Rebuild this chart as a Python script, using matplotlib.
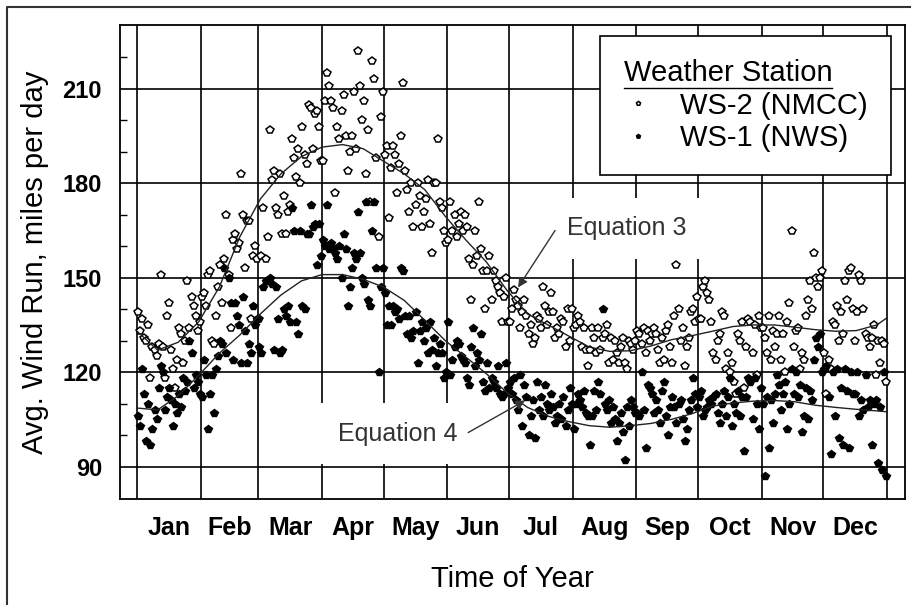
import numpy as np
import matplotlib
matplotlib.use('Agg')
import matplotlib.pyplot as plt
from matplotlib.lines import Line2D

plt.rcParams['font.family'] = ['Liberation Sans', 'DejaVu Sans']

# Months and their lengths (day 0 = Jan 1)
months = ['Jan', 'Feb', 'Mar', 'Apr', 'May', 'Jun',
          'Jul', 'Aug', 'Sep', 'Oct', 'Nov', 'Dec']
month_days = [31, 28, 31, 30, 31, 30, 31, 31, 30, 31, 30, 31]

# WS-2 (NMCC) daily wind run, miles per day
ws2_jan = [139, 133, 137, 131, 130, 135, 118, 128, 127, 125, 129, 151, 128, 118, 138, 142, 127, 121, 115, 124, 134, 132, 123, 130, 149, 134, 144, 141, 138, 133, 136]
ws2_feb = [144, 145, 141, 151, 152, 130, 129, 138, 147, 154, 142, 156, 170, 151, 134, 162, 164, 159, 161, 183, 170, 153, 168, 168, 137, 157, 160, 156]
ws2_mar = [137, 157, 172, 156, 163, 197, 181, 184, 172, 170, 183, 164, 176, 164, 171, 173, 194, 188, 182, 191, 180, 198, 189, 186, 205, 204, 191, 202, 203, 198, 187]
ws2_apr = [187, 206, 215, 211, 206, 204, 177, 198, 194, 203, 208, 195, 184, 190, 195, 209, 191, 222, 211, 200, 206, 183, 197, 174, 219, 213, 188, 163, 201, 209]
ws2_may = [189, 192, 169, 185, 192, 189, 177, 186, 195, 212, 184, 178, 171, 180, 166, 173, 180, 176, 166, 171, 175, 181, 167, 158, 180, 180, 194, 174, 172, 165, 161]
ws2_jun = [162, 174, 165, 170, 163, 167, 171, 165, 170, 166, 156, 143, 154, 165, 157, 174, 159, 152, 140, 152, 157, 143, 152, 149, 147, 145, 136, 144, 150, 136]
ws2_jul = [136, 140, 146, 143, 141, 134, 139, 143, 138, 132, 135, 129, 131, 138, 137, 134, 147, 141, 135, 139, 145, 139, 131, 134, 132, 137, 136, 128, 140, 130, 140]
ws2_aug = [134, 135, 138, 136, 128, 134, 127, 122, 127, 134, 131, 126, 134, 127, 131, 132, 135, 123, 131, 124, 130, 126, 123, 128, 131, 123, 121, 130, 129, 127, 130]
ws2_sep = [133, 132, 129, 134, 126, 133, 130, 132, 134, 132, 127, 123, 131, 124, 133, 135, 128, 123, 138, 154, 140, 130, 134, 122, 128, 131, 139, 140, 136, 144]
ws2_oct = [137, 137, 147, 149, 145, 143, 136, 126, 124, 130, 132, 139, 138, 121, 126, 120, 123, 117, 113, 132, 130, 136, 115, 128, 137, 136, 126, 135, 119, 138, 134]
ws2_nov = [134, 131, 126, 138, 124, 133, 128, 132, 138, 124, 132, 120, 136, 142, 165, 128, 133, 134, 121, 126, 124, 138, 143, 149, 140, 158, 150, 147, 150, 152]
ws2_dec = [126, 113, 124, 121, 136, 135, 141, 130, 139, 132, 149, 143, 152, 153, 140, 130, 139, 151, 149, 140, 132, 131, 128, 131, 135, 119, 130, 123, 130, 129, 117]

# WS-1 (NWS) daily wind run, miles per day
ws1_jan = [106, 103, 121, 113, 98, 110, 97, 102, 108, 105, 115, 122, 120, 108, 112, 115, 111, 103, 110, 107, 113, 109, 118, 114, 117, 130, 126, 115, 119, 117, 113]
ws1_feb = [112, 124, 119, 102, 113, 119, 107, 121, 125, 130, 129, 153, 126, 150, 142, 124, 142, 138, 135, 123, 144, 133, 123, 129, 126, 141, 135, 137]
ws1_mar = [128, 126, 147, 149, 149, 150, 148, 127, 147, 137, 126, 127, 140, 138, 141, 136, 172, 165, 136, 132, 165, 141, 140, 164, 164, 173, 166, 167, 154, 167, 157]
ws1_apr = [162, 160, 173, 159, 161, 159, 158, 156, 160, 150, 164, 159, 141, 147, 153, 158, 156, 171, 158, 150, 148, 174, 143, 141, 165, 174, 153, 120, 147, 153]
ws1_may = [145, 135, 141, 135, 141, 139, 140, 137, 153, 152, 138, 132, 138, 131, 133, 139, 123, 133, 136, 130, 134, 126, 136, 127, 131, 122, 126, 129, 126, 118, 120]
ws1_jun = [136, 119, 124, 128, 130, 129, 125, 124, 123, 118, 116, 128, 134, 122, 126, 124, 132, 117, 114, 123, 115, 118, 117, 115, 122, 113, 112, 113, 123, 115]
ws1_jul = [117, 113, 118, 111, 108, 119, 103, 116, 112, 100, 106, 111, 99, 117, 108, 112, 106, 116, 110, 108, 113, 109, 104, 106, 110, 105, 112, 103, 108, 115, 110]
ws1_aug = [102, 110, 113, 111, 109, 114, 107, 106, 97, 106, 114, 108, 117, 113, 140, 110, 108, 111, 104, 109, 105, 98, 104, 107, 101, 92, 109, 103, 111, 109, 107]
ws1_sep = [107, 106, 120, 108, 96, 116, 115, 113, 107, 111, 108, 104, 114, 117, 106, 100, 109, 112, 109, 104, 110, 111, 105, 98, 102, 108, 111, 118, 113, 109]
ws1_oct = [112, 114, 106, 108, 109, 111, 110, 112, 113, 107, 104, 110, 114, 106, 112, 118, 103, 110, 107, 114, 106, 112, 95, 112, 118, 117, 105, 118, 110, 102, 115]
ws1_nov = [110, 87, 112, 96, 111, 104, 113, 119, 116, 108, 113, 117, 102, 110, 121, 113, 120, 112, 116, 101, 106, 115, 105, 114, 111, 124, 131, 128, 132, 120]
ws1_dec = [121, 122, 112, 94, 120, 106, 121, 99, 115, 97, 121, 114, 96, 120, 113, 113, 120, 106, 111, 108, 119, 109, 111, 97, 110, 111, 91, 109, 89, 120, 87]

# Fitted curves (Equation 3 for WS-2, Equation 4 for WS-1)
curve_days = [0, 10, 20, 30, 40, 50, 60, 70, 80, 90, 100, 110, 120, 130, 140, 150, 160, 170, 180,
              190, 200, 210, 220, 230, 240, 250, 260, 270, 280, 290, 300, 310, 320, 330, 340, 350, 360, 365]
eq3 = [133, 127, 129.5, 136, 147, 163, 175, 183, 188.5, 191.5, 192.3, 191, 187, 183, 178, 169.5, 162, 155, 146,
       138.5, 135, 131.5, 128, 126.6, 126.8, 128.3, 130.3, 131.6, 133, 134.5, 135, 135, 134.3, 133.5, 133, 133.2, 135, 137.3]
eq4 = [108.6, 108, 112.5, 119, 126, 131.8, 138.5, 144.5, 149, 151, 151, 149.5, 147, 142.8, 136.5, 130, 124.8, 119.5, 113.5,
       108.8, 106, 104.3, 103, 102.5, 103, 103.7, 105, 106.8, 109.2, 110.2, 110.8, 111, 110.6, 109.5, 108.8, 108.2, 107.7, 107.4]

ws2 = np.concatenate([ws2_jan, ws2_feb, ws2_mar, ws2_apr, ws2_may, ws2_jun,
                      ws2_jul, ws2_aug, ws2_sep, ws2_oct, ws2_nov, ws2_dec])
ws1 = np.concatenate([ws1_jan, ws1_feb, ws1_mar, ws1_apr, ws1_may, ws1_jun,
                      ws1_jul, ws1_aug, ws1_sep, ws1_oct, ws1_nov, ws1_dec])
day = np.arange(len(ws2)) + 0.5

edges = np.concatenate([[0], np.cumsum(month_days)])
centers = (edges[:-1] + edges[1:]) / 2

fig = plt.figure(figsize=(9.12, 6.05), dpi=100)
ax = fig.add_axes([0.1316, 0.1752, 0.8607, 0.7835])

ax.plot(day, ws2, ls='none', marker='p', ms=5.5, mfc='white', mec='black', mew=1.1,
        label='WS-2 (NMCC)', zorder=3)
ax.plot(day, ws1, ls='none', marker='p', ms=5.5, mfc='black', mec='black', mew=1.0,
        label='WS-1 (NWS)', zorder=3)
ax.plot(curve_days, eq3, color='#222222', lw=1.0, zorder=4)
ax.plot(curve_days, eq4, color='#222222', lw=1.0, zorder=4)

ax.set_xlim(-8.3, 373.7)
ax.set_ylim(79.7, 230.3)

# x: grid at month edges, labels at month centers
ax.set_xticks(edges)
ax.set_xticklabels([])
ax.set_xticks(centers, minor=True)
ax.set_xticklabels(months, minor=True, fontsize=18, fontweight='bold')
ax.tick_params(axis='x', which='both', length=0)
ax.tick_params(axis='x', which='minor', pad=12)

# y: grid at major, small inward ticks between
ax.set_yticks([90, 120, 150, 180, 210])
ax.set_yticklabels(['90', '120', '150', '180', '210'], fontsize=17, fontweight='bold')
ax.set_yticks([100, 110, 130, 140, 160, 170, 190, 200, 220], minor=True)
ax.tick_params(axis='y', which='major', length=0, pad=13)
ax.tick_params(axis='y', which='minor', direction='in', length=5, width=1, left=True)

ax.grid(True, which='major', color='black', lw=1.2)
ax.set_axisbelow(True)
for s in ax.spines.values():
    s.set_linewidth(1.3)

ax.set_ylabel('Avg. Wind Run, miles per day', fontsize=21, labelpad=10)
ax.set_xlabel('Time of Year', fontsize=21, labelpad=18)

# equation labels on white boxes, arrows drawn separately
box = dict(boxstyle='square,pad=0.75', fc='white', ec='none')
arrow = dict(arrowstyle='-|>', color='#333333', lw=1.0, shrinkA=0, shrinkB=0, mutation_scale=14)
ax.text(209.2, 165.7, 'Equation 3', ha='left', va='center', fontsize=18, color='#333333',
        bbox=box, zorder=5)
ax.text(97.8, 100.5, 'Equation 4', ha='left', va='center', fontsize=18, color='#333333',
        bbox=box, zorder=5)
ax.annotate('', xy=(185.4, 146.9), xytext=(203.4, 165.0), arrowprops=arrow, zorder=6)
ax.annotate('', xy=(188.8, 111.0), xytext=(161.1, 100.8), arrowprops=arrow, zorder=6)

leg = ax.legend(title='Weather Station', loc='upper right', bbox_to_anchor=(0.982, 0.977),
                borderaxespad=0, fontsize=21, title_fontsize=21, frameon=True, fancybox=False,
                framealpha=1, edgecolor='black', markerscale=0.55, handlelength=1.0,
                handletextpad=0.93, borderpad=0.8, labelspacing=0.15, alignment='left')
leg.get_frame().set_linewidth(1.2)
leg.set_zorder(7)

# outer frame of the picture
fig.add_artist(Line2D([7 / 912, 7 / 912, 1.0], [0.0, 1 - 7 / 605, 1 - 7 / 605],
                      transform=fig.transFigure, color='#333333', lw=1.5))

# underline the legend title
fig.canvas.draw()
bb = leg.get_title().get_window_extent()
W, H = fig.bbox.width, fig.bbox.height
fig.add_artist(Line2D([bb.x0 / W, bb.x1 / W], [(bb.y0 - 1) / H, (bb.y0 - 1) / H],
                      transform=fig.transFigure, color='black', lw=1.0, zorder=10))

fig.savefig('out.png', dpi=100)
